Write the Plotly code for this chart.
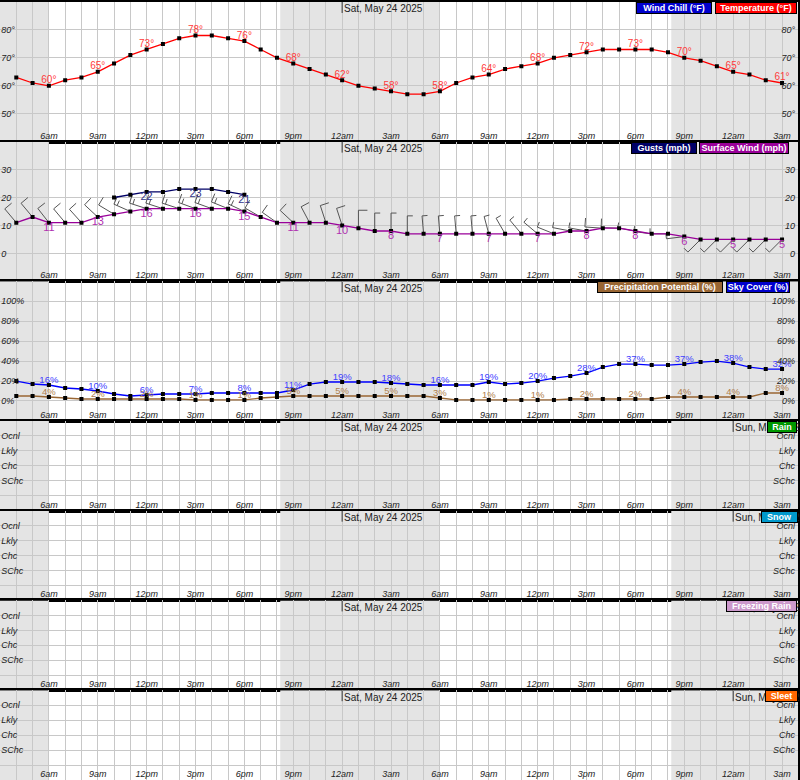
import math
import pandas as pd
import plotly.graph_objects as go

# ---------------- data ----------------
start = pd.Timestamp("2025-05-23 03:00")
times = pd.date_range("2025-05-23 04:00", periods=48, freq="h")
hours = [(t - start) / pd.Timedelta(hours=1) for t in times]

temperature = [63, 61, 60, 62, 63, 65, 68, 71, 73, 75, 77, 78, 78, 77, 76, 73, 70, 68, 66, 64, 62, 60, 59, 58,
               57, 57, 58, 61, 63, 64, 66, 67, 68, 70, 71, 72, 73, 73, 73, 73, 72, 70, 69, 67, 65, 64, 62, 61]
surface_wind = [11, 13, 11, 11, 11, 13, 14, 15, 16, 16, 16, 16, 16, 16, 15, 13, 11, 11, 11, 11, 10, 9, 8, 8,
                7, 7, 7, 7, 7, 7, 7, 7, 7, 7, 8, 8, 9, 9, 8, 7, 7, 6, 5, 5, 5, 5, 5, 5]
gusts = [None] * 6 + [20, 21, 22, 22, 23, 23, 23, 22, 21] + [None] * 33
wind_dir = [320, 320, 322, 320, 318, 313, 301, 294, 288, 288, 288, 290, 290, 292, 295, 300, 305, 313, 332, 342,
            342, 0, 0, 0, 0, 355, 355, 355, 355, 345, 330, 320, 310, 292, 281, 280, 274, 272, 280, 277, 270, 263,
            225, 225, 225, 225, 225, 225]
sky_cover = [20, 17, 16, 13, 12, 10, 7, 5, 6, 7, 7, 7, 8, 8, 8, 8, 8, 11, 17, 19, 19, 19, 19, 18,
             17, 16, 16, 16, 16, 19, 17, 18, 20, 23, 25, 28, 34, 37, 37, 36, 36, 37, 39, 40, 38, 34, 32, 32]
precip_potential = [5, 5, 4, 3, 2, 2, 2, 2, 2, 2, 2, 1, 1, 1, 1, 3, 4, 5, 5, 5, 5, 5, 5, 5,
                    5, 5, 3, 1, 1, 1, 1, 1, 1, 1, 2, 2, 2, 2, 2, 2, 4, 4, 4, 4, 4, 4, 8, 8]

sunrise = ["2025-05-23 06:00", "2025-05-24 06:00"]
sunset = ["2025-05-23 20:12", "2025-05-24 20:12"]
day_starts = ["2025-05-24 00:00", "2025-05-25 00:00"]

tick_hours = list(range(0, 49))


def hlabel(h):
    t = start + pd.Timedelta(hours=h)
    if h == 0 or h % 3 != 0:
        return ""
    return f"{t.hour % 12 or 12}{'am' if t.hour < 12 else 'pm'}"


tick_text = [hlabel(h) for h in tick_hours]


def toh(s):
    return (pd.Timestamp(s) - start) / pd.Timedelta(hours=1)


# ---------------- geometry ----------------
W, H = 800, 780
PXH = 49 / 3  # pixels per hour
XMAX = W / PXH
panels = [(0, 140), (140, 280), (280, 420), (420, 510), (510, 600), (600, 690), (690, 780)]
FONT = "Liberation Sans, Arial, sans-serif"
GRID = "#c8c8c8"
NIGHT = "#e4e4e4"

prob_ticks = [0, 1, 2, 3, 4]
prob_text = ["", "SChc", "Chc", "Lkly", "Ocnl"]
yspecs = [
    dict(range=[40, 90], tickvals=[50, 60, 70, 80], ticktext=["50°", "60°", "70°", "80°"]),
    dict(range=[-10, 40], tickvals=[0, 10, 20, 30], ticktext=["0", "10", "20", "30"]),
    dict(range=[-20, 120], tickvals=[0, 20, 40, 60, 80, 100], ticktext=["0%", "20%", "40%", "60%", "80%", "100%"]),
] + [dict(range=[-1, 5], tickvals=prob_ticks, ticktext=prob_text) for _ in range(4)]

legends = [
    [("Wind Chill (°F)", "#0000cc", 638, 714), ("Temperature (°F)", "#ff0000", 717, 799)],
    [("Gusts (mph)", "#000066", 633, 699), ("Surface Wind (mph)", "#990099", 701, 791)],
    [("Precipitation Potential (%)", "#996633", 599, 725), ("Sky Cover (%)", "#0000cc", 728, 792)],
    [("Rain", "#009900", 769, 799)],
    [("Snow", "#0099cc", 763, 800)],
    [("Freezing Rain", "#cc99cc", 728, 799)],
    [("Sleet", "#ff6600", 767, 800)],
]


def sfx(k):
    return "" if k == 1 else str(k)


fig = go.Figure()
layout = dict(width=W, height=H, margin=dict(l=0, r=0, t=0, b=0, pad=0), autosize=False,
              paper_bgcolor="white", plot_bgcolor="white", showlegend=False,
              font=dict(family=FONT, size=9, color="#222"))
shapes = []
annotations = []

tickfont = dict(family=FONT, size=9, style="italic", color="#222")

for k in range(1, 8):
    top, bot = panels[k - 1]
    spec = yspecs[k - 1]
    dom = [1 - bot / H, 1 - top / H]
    xa, ya = f"x{sfx(k)}", f"y{sfx(k)}"
    layout[f"xaxis{sfx(k)}"] = dict(domain=[0, 1], anchor=ya, range=[0, XMAX], tickmode="array",
                                   tickvals=tick_hours, ticktext=tick_text, showgrid=True, gridcolor=GRID,
                                   gridwidth=1, ticks="", ticklabelposition="inside", tickfont=tickfont,
                                   ticklabeloverflow="allow",
                                   showline=True, linecolor="black", linewidth=2, mirror=True, zeroline=False,
                                   fixedrange=True)
    layout[f"yaxis{sfx(k)}"] = dict(domain=dom, anchor=xa, range=spec["range"], tickmode="array",
                                   tickvals=spec["tickvals"], ticktext=spec["ticktext"], showgrid=True,
                                   gridcolor=GRID, gridwidth=1, ticks="", ticklabelposition="inside",
                                   tickfont=tickfont, ticklabeloverflow="allow",
                                   showline=True, linecolor="black", linewidth=2,
                                   mirror=True, zeroline=False, fixedrange=True)
    layout[f"yaxis{k + 7}"] = dict(overlaying=ya, side="right", anchor=xa, range=spec["range"],
                                  tickmode="array", tickvals=spec["tickvals"], ticktext=spec["ticktext"],
                                  showgrid=False, ticks="", ticklabelposition="inside", tickfont=tickfont,
                                  ticklabeloverflow="allow",
                                  showline=False, zeroline=False, fixedrange=True)
    fig.add_trace(go.Scatter(x=[], y=[], xaxis=xa, yaxis=ya, hoverinfo="skip"))
    fig.add_trace(go.Scatter(x=[], y=[], xaxis=xa, yaxis=f"y{k + 7}", hoverinfo="skip"))

    # night shading
    y0, y1 = spec["range"]
    spans = [(0, toh(sunrise[0])), (toh(sunset[0]), toh(sunrise[1])), (toh(sunset[1]), XMAX)]
    for a, b in spans:
        shapes.append(dict(type="rect", xref=xa, yref=ya, x0=a, x1=b, y0=y0, y1=y1,
                           fillcolor=NIGHT, line=dict(width=0), layer="below"))

    # day labels
    ph = bot - top
    days = day_starts if k >= 4 else day_starts[:1]
    for d in days:
        hx = toh(d)
        shapes.append(dict(type="line", xref=xa, yref=f"{ya} domain", x0=hx, x1=hx,
                           y0=1 - 11 / ph, y1=1, line=dict(color="#333", width=1), layer="above"))
        annotations.append(dict(text=pd.Timestamp(d).strftime("%a, %b %d %Y"), xref=xa, yref="paper",
                                x=hx + 1 / PXH, y=1 - (top + 0.5) / H, xanchor="left", yanchor="top",
                                showarrow=False, font=dict(family=FONT, size=10, color="#222"), borderpad=0))
    # legend boxes
    for text, col, lpx, rpx in legends[k - 1]:
        annotations.append(dict(text=f"<b>{text}</b>", xref="paper", yref="paper", x=rpx / W,
                                y=1 - top / H, xanchor="right", yanchor="top", showarrow=False,
                                bgcolor=col, bordercolor="black", borderwidth=1, borderpad=0,
                                width=rpx - lpx - 2, height=10, align="center",
                                font=dict(family=FONT, size=9, color="white")))

# ---------------- panel 1: temperature ----------------
lab_idx = [i for i, h in enumerate(hours) if int(h) % 3 == 0]
fig.add_trace(go.Scatter(x=hours, y=temperature, xaxis="x", yaxis="y", mode="lines+markers",
                         line=dict(color="#ff0000", width=1.3),
                         marker=dict(symbol="square", size=4, color="black"), hoverinfo="skip"))
fig.add_trace(go.Scatter(x=[hours[i] for i in lab_idx], y=[temperature[i] for i in lab_idx],
                         text=[f"{temperature[i]}°" for i in lab_idx], mode="text", textposition="top center",
                         textfont=dict(family=FONT, size=10, color="#ff3b3b"), xaxis="x", yaxis="y",
                         hoverinfo="skip", cliponaxis=False))

# ---------------- panel 2: wind ----------------
PXW = 140 / 50.0
L_STAFF, L_FULL, L_HALF, SP = 18.0, 9.0, 5.5, 3.5
bx, by = [], []
for h, s, d in zip(hours, surface_wind, wind_dir):
    r = math.radians(d)
    ux, uy = math.sin(r), math.cos(r)  # pixel direction, y up
    tx, ty = h + L_STAFF * ux / PXH, s + L_STAFF * uy / PXW
    bx += [h, tx, None]
    by += [s, ty, None]
    kt = int(round(s * 0.868976 / 5.0) * 5)
    flags = [L_FULL] * (kt // 10) + [L_HALF] * ((kt % 10) // 5)
    px_, py_ = math.cos(r), -math.sin(r)  # perpendicular (clockwise side), y up
    for j, ln in enumerate(flags):
        fx = tx - j * SP * ux / PXH
        fy = ty - j * SP * uy / PXW
        bx += [fx, fx + ln * px_ / PXH, None]
        by += [fy, fy + ln * py_ / PXW, None]
fig.add_trace(go.Scatter(x=bx, y=by, xaxis="x2", yaxis="y2", mode="lines",
                         line=dict(color="#555555", width=1), hoverinfo="skip"))
fig.add_trace(go.Scatter(x=hours, y=surface_wind, xaxis="x2", yaxis="y2", mode="lines+markers",
                         line=dict(color="#990099", width=1.3),
                         marker=dict(symbol="square", size=4, color="black"), hoverinfo="skip"))
fig.add_trace(go.Scatter(x=hours, y=gusts, xaxis="x2", yaxis="y2", mode="lines+markers",
                         line=dict(color="#000066", width=1.3),
                         marker=dict(symbol="square", size=4, color="black"), hoverinfo="skip"))
fig.add_trace(go.Scatter(x=[hours[i] for i in lab_idx], y=[surface_wind[i] for i in lab_idx],
                         text=[str(surface_wind[i]) for i in lab_idx], mode="text", textposition="bottom center",
                         textfont=dict(family=FONT, size=11, color="#b030b0"), xaxis="x2", yaxis="y2",
                         hoverinfo="skip", cliponaxis=False))
g_idx = [i for i in lab_idx if gusts[i] is not None]
fig.add_trace(go.Scatter(x=[hours[i] for i in g_idx], y=[gusts[i] for i in g_idx],
                         text=[str(gusts[i]) for i in g_idx], mode="text", textposition="bottom center",
                         textfont=dict(family=FONT, size=11, color="#333388"), xaxis="x2", yaxis="y2",
                         hoverinfo="skip", cliponaxis=False))

# ---------------- panel 3: sky cover / precip potential ----------------
fig.add_trace(go.Scatter(x=hours, y=precip_potential, xaxis="x3", yaxis="y3", mode="lines+markers",
                         line=dict(color="#996633", width=1.3),
                         marker=dict(symbol="square", size=4, color="black"), hoverinfo="skip"))
fig.add_trace(go.Scatter(x=hours, y=sky_cover, xaxis="x3", yaxis="y3", mode="lines+markers",
                         line=dict(color="#0000ff", width=1.3),
                         marker=dict(symbol="square", size=4, color="black"), hoverinfo="skip"))
fig.add_trace(go.Scatter(x=[hours[i] for i in lab_idx], y=[precip_potential[i] for i in lab_idx],
                         text=[f"{precip_potential[i]}%" for i in lab_idx], mode="text", textposition="top center",
                         textfont=dict(family=FONT, size=9.5, color="#b0804c"), xaxis="x3", yaxis="y3",
                         hoverinfo="skip", cliponaxis=False))
fig.add_trace(go.Scatter(x=[hours[i] for i in lab_idx], y=[sky_cover[i] for i in lab_idx],
                         text=[f"{sky_cover[i]}%" for i in lab_idx], mode="text", textposition="top center",
                         textfont=dict(family=FONT, size=9.5, color="#4040ff"), xaxis="x3", yaxis="y3",
                         hoverinfo="skip", cliponaxis=False))

layout["shapes"] = shapes
layout["annotations"] = annotations
fig.update_layout(**layout)

fig.write_html("out.html", config={"displayModeBar": False, "staticPlot": True},
               post_script="document.body.style.margin='0';document.body.style.overflow='hidden';")
